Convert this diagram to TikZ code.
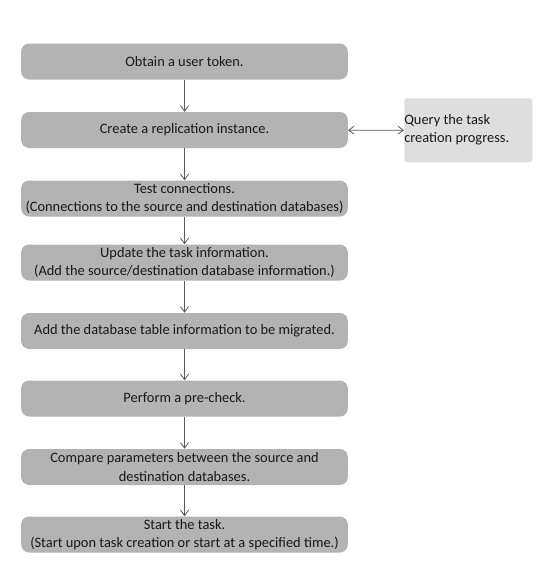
\documentclass[tikz,border=0pt]{standalone}
\usepackage{fontspec}
\setmainfont{Carlito}
\usetikzlibrary{arrows.meta}

\tikzset{
  stepbox/.style={fill=boxgray, rounded corners=6pt, minimum width=245pt,
    minimum height=27pt, inner sep=0pt, align=center, text=black!90,
    font=\fontsize{10.8}{14}\selectfont},
  querybox/.style={fill=querygray, rounded corners=2pt, minimum width=96pt,
    minimum height=48pt, inner sep=0pt},
  flow/.style={draw=linegray, line width=0.6pt, -{Straight Barb[length=4pt,width=6pt]}},
}
\definecolor{boxgray}{HTML}{B3B3B3}
\definecolor{querygray}{HTML}{DEDEDE}
\definecolor{linegray}{HTML}{5A5A5A}

\begin{document}
\begin{tikzpicture}[x=0.75pt,y=-0.75pt]

\useasboundingbox[fill=white] (0,0) rectangle (542,583) ;

% main steps
\node[stepbox] (token) at (184.5,61.5) {Obtain a user token.} ;
\node[stepbox] (create) at (184.5,130) {Create a replication instance.} ;
\node[stepbox] (test) at (184.5,198.5) {Test connections.\\(Connections to the source and destination databases)} ;
\node[stepbox] (update) at (184.5,262.5) {Update the task information.\\(Add the source/destination database information.)} ;
\node[stepbox] (tables) at (184.5,331) {Add the database table information to be migrated.} ;
\node[stepbox] (precheck) at (184.5,398.5) {Perform a pre-check.} ;
\node[stepbox] (compare) at (184.5,467) {Compare parameters between the source and\\destination databases.} ;
\node[stepbox] (start) at (184.5,534.5) {Start the task.\\(Start upon task creation or start at a specified time.)} ;

% side box
\node[querybox] (query) at (468.25,130.25) {} ;
\node[anchor=west, inner sep=0pt, align=left, text=black!90,
  font=\fontsize{10.8}{14}\selectfont] (querytext) at ([yshift=0.5pt]query.west)
  {Query the task\\creation progress.} ;

% connectors
\draw[flow] (token) -- (create) ;
\draw[flow] (create) -- (test) ;
\draw[flow] (test) -- (update) ;
\draw[flow] (update) -- (tables) ;
\draw[flow] (tables) -- (precheck) ;
\draw[flow] (precheck) -- (compare) ;
\draw[flow] (compare) -- (start) ;

\draw[flow, {Straight Barb[length=4pt,width=6pt]}-{Straight Barb[length=4pt,width=6pt]}] (create) -- (query) ;

\end{tikzpicture}
\end{document}
